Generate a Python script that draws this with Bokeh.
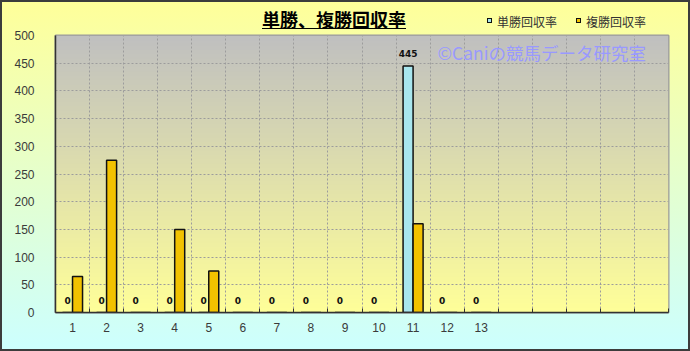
import numpy as np
from bokeh.plotting import figure
from bokeh.layouts import column
from bokeh.models import Range1d, FixedTicker, ColumnDataSource, LabelSet, Label, Div
from bokeh.transform import dodge
from bokeh.embed import file_html
from bokeh.resources import INLINE
from bokeh.core.properties import value

# ---- data ----
categories = ["1", "2", "3", "4", "5", "6", "7", "8", "9", "10", "11", "12", "13"]
n_slots = 18
tansho = [0, 0, 0, 0, 0, 0, 0, 0, 0, 0, 445, 0, 0]          # 単勝回収率
fukusho = [65, 275, 0, 150, 75, 0, 0, 0, 0, 0, 160, 0, 0]   # 複勝回収率
y_ticks = [0, 50, 100, 150, 200, 250, 300, 350, 400, 450, 500]
title_text = "単勝、複勝回収率"
series_names = ["単勝回収率", "複勝回収率"]
series_colors = ["#a8e6ee", "#f2c200"]
watermark = "©Caniの競馬データ研究室"

CJK = "Noto Sans CJK JP"
HEAD_H = 29          # header (title + legend) height
FIG_TOP = 35 - HEAD_H
LEFT, BOTTOM = 55, 312 - HEAD_H  # frame left / bottom inside the figure

xs = list(range(1, len(categories) + 1))
src = ColumnDataSource(dict(x=xs, cat=categories, tansho=tansho, fukusho=fukusho,
                            tlabel=[str(v) for v in tansho]))

p = figure(width=690, height=351 - HEAD_H, output_backend="svg", toolbar_location=None,
           x_range=Range1d(0.5, n_slots + 0.5), y_range=Range1d(0, 500),
           min_border_left=55, min_border_right=22, min_border_top=FIG_TOP, min_border_bottom=39)
p.title.visible = False

# plot-area gradient background (gray top -> yellow bottom)
rows = 256
img = np.empty((rows, 1), dtype=np.uint32)
view = img.view(dtype=np.uint8).reshape((rows, 1, 4))
t = np.linspace(0, 1, rows)
c_bot = np.array([255, 255, 153]); c_top = np.array([192, 192, 192])
for k in range(3):
    view[:, 0, k] = (c_bot[k] + (c_top[k] - c_bot[k]) * t).astype(np.uint8)
view[:, 0, 3] = 255
p.image_rgba(image=[img], x=0.5, y=0, dw=n_slots, dh=500, level="image")

p.background_fill_alpha = 0
p.border_fill_alpha = 0

# grids
p.xgrid.ticker = FixedTicker(ticks=[i + 0.5 for i in range(1, n_slots)])
p.ygrid.ticker = FixedTicker(ticks=y_ticks)
for g in (p.xgrid, p.ygrid):
    g.grid_line_color = "#9c9c9c"
    g.grid_line_dash = "2 2"
    g.grid_line_width = 1

p.outline_line_color = "#9a9a9a"
p.outline_line_width = 2

# axes
p.xaxis.ticker = FixedTicker(ticks=xs, minor_ticks=[i + 0.5 for i in range(0, n_slots + 1)])
p.xaxis.major_label_overrides = {x: c for x, c in zip(xs, categories)}
p.xaxis.major_tick_line_color = None
p.xaxis.minor_tick_in = 4
p.xaxis.minor_tick_out = 0
p.xaxis.minor_tick_line_color = "#333333"
p.xaxis.major_label_standoff = 4
p.yaxis.ticker = FixedTicker(ticks=y_ticks)
p.yaxis.major_tick_line_color = None
p.yaxis.minor_tick_line_color = None
p.yaxis.major_label_standoff = 15
for ax in (p.xaxis, p.yaxis):
    ax.axis_line_color = "#333333"
    ax.axis_line_width = 1.5
    ax.major_label_text_font = "Liberation Sans"
    ax.major_label_text_font_size = "12px"
    ax.major_label_text_color = "#3a3a3a"

# bars
bw = 0.294
p.vbar(x=dodge("x", -bw / 2, range=p.x_range), top="tansho", width=bw, source=src,
       fill_color=series_colors[0], line_color="#111111", line_width=1.5)
p.vbar(x=dodge("x", bw / 2, range=p.x_range), top="fukusho", width=bw, source=src,
       fill_color=series_colors[1], line_color="#111111", line_width=1.5)

p.add_layout(LabelSet(x=dodge("x", -bw / 2, range=p.x_range), y="tansho", text="tlabel", source=src,
                      y_offset=12, text_align="center", text_baseline="middle",
                      text_font=value("DejaVu Sans"), text_font_size="9px",
                      text_font_style="bold", text_color="#111111"))

# watermark
p.add_layout(Label(x=437 - LEFT, y=BOTTOM - (52 - HEAD_H), x_units="screen", y_units="screen",
                   text=watermark, text_font=CJK, text_font_size="17.5px", text_color="#9999ff",
                   text_align="left", text_baseline="middle"))

# header: title (underlined) + legend
def sw(left, color):
    return (f"<span style='position:absolute;left:{left}px;top:18px;width:5px;height:5px;"
            f"border:1px solid #111;background:{color}'></span>")

def lt(left, text):
    return (f"<span style='position:absolute;left:{left}px;top:16px;font-size:12px;line-height:12px;"
            f"color:#333;white-space:nowrap'>{text}</span>")

header_html = (
    f"<div style=\"position:relative;width:690px;height:{HEAD_H}px;font-family:'{CJK}';\">"
    f"<span style='position:absolute;left:262px;top:10px;font-size:18px;line-height:18px;font-weight:bold;"
    f"color:#000;border-bottom:1px solid #000;white-space:nowrap'>{title_text}</span>"
    + sw(487, series_colors[0]) + lt(497, series_names[0])
    + sw(576, series_colors[1]) + lt(586, series_names[1])
    + "</div>"
)
head = Div(text=header_html, width=690, height=HEAD_H, styles={"margin": "0", "padding": "0"})

layout = column(head, p, spacing=0)
layout.styles = {"background": "linear-gradient(to bottom, #ffff99, #ccffff)",
                 "outline": "2px solid #3c3c3c", "outline-offset": "-2px"}

open("out.html", "w").write(file_html(layout, INLINE))
